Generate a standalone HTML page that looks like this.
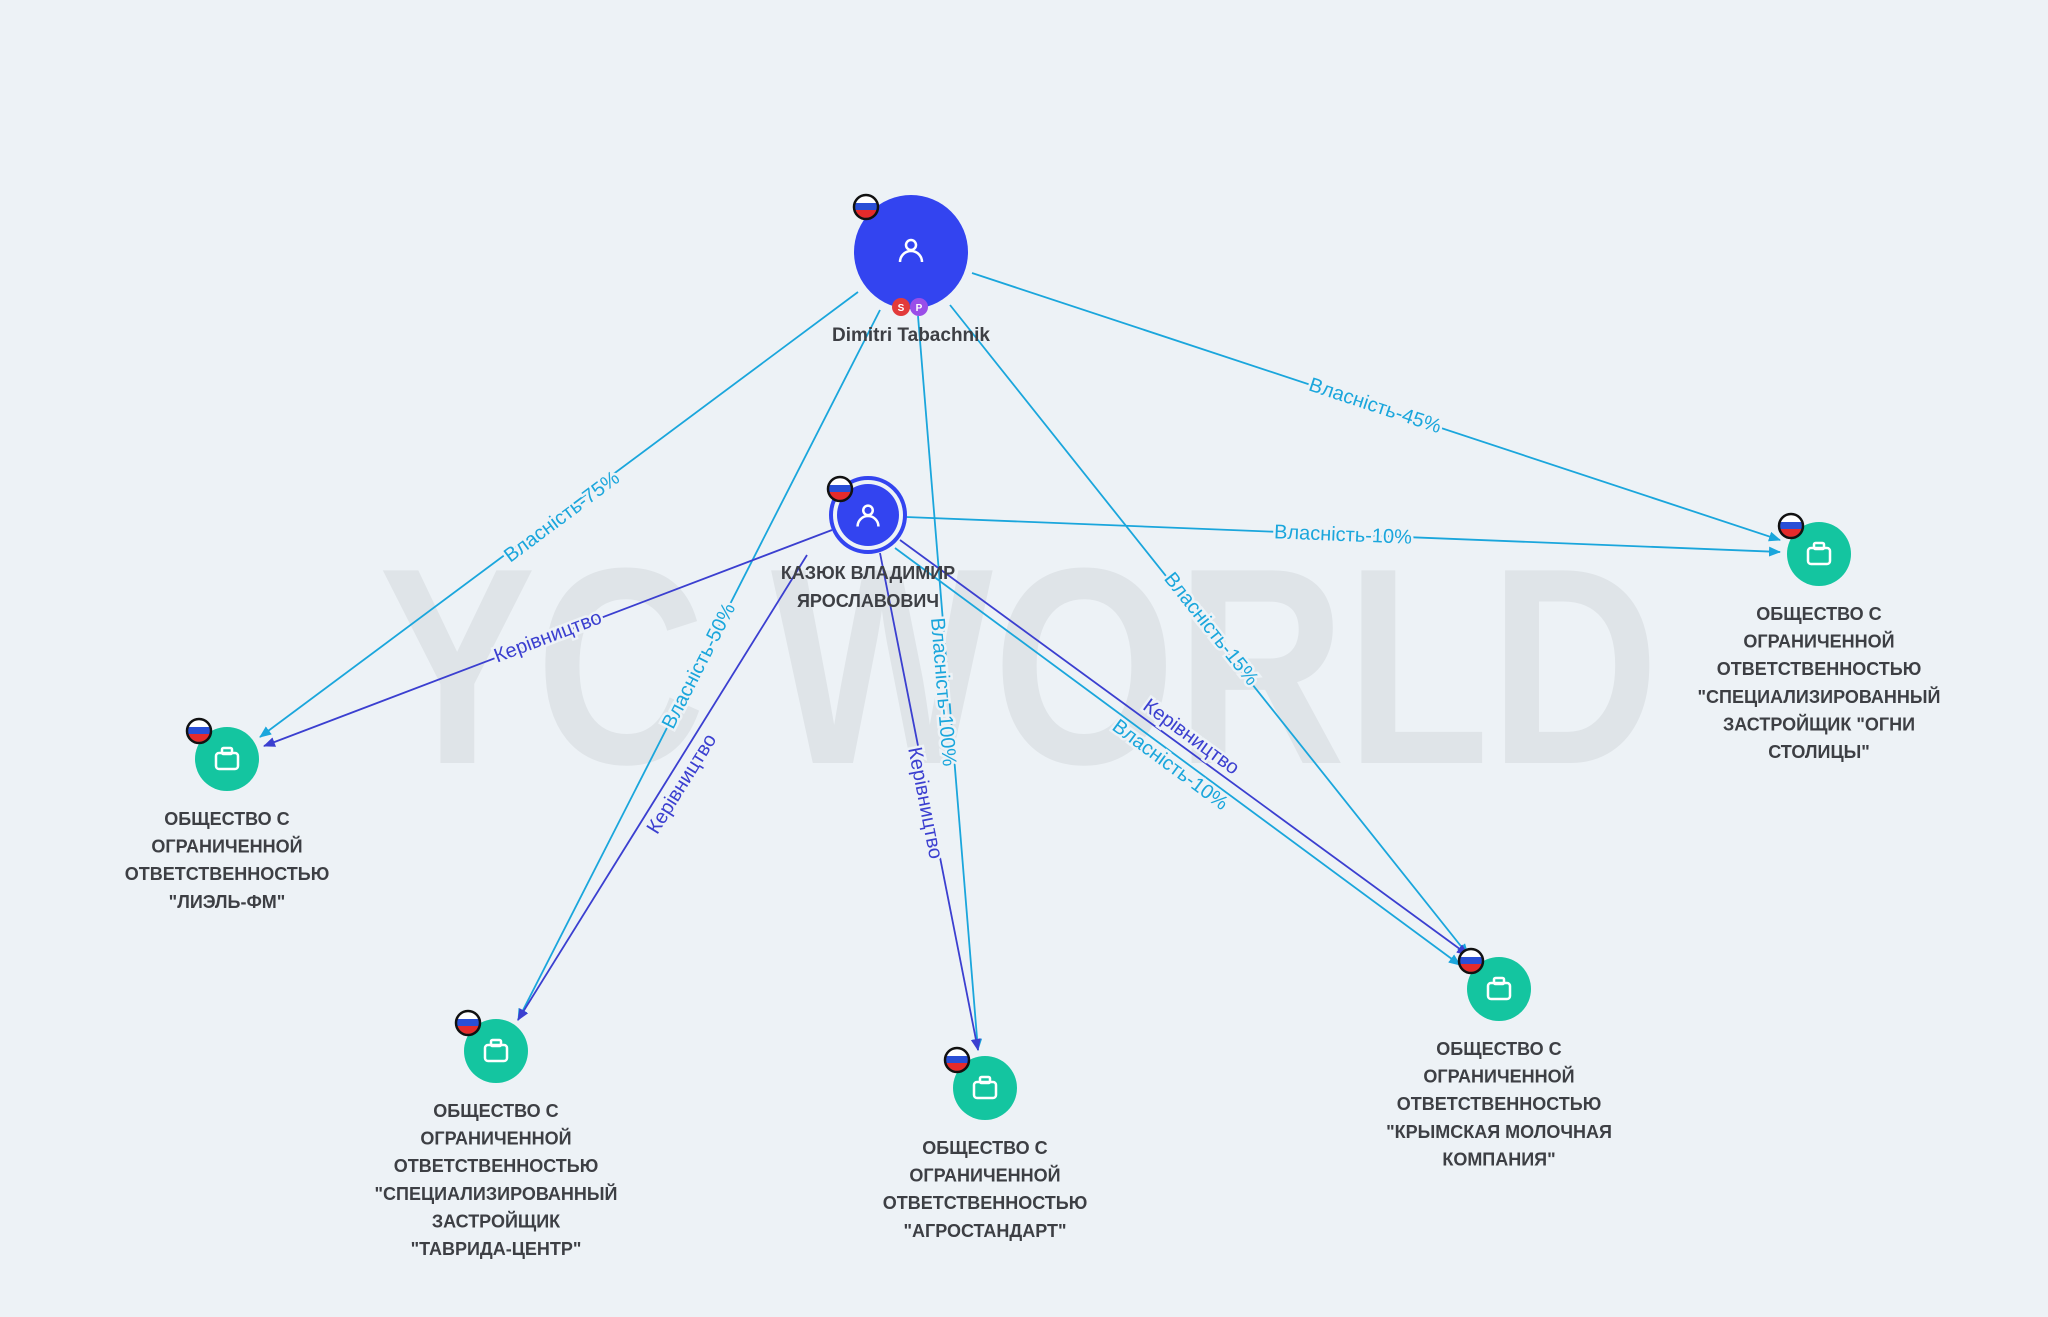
<!DOCTYPE html>
<html><head><meta charset="utf-8"><style>
html,body{margin:0;padding:0;background:#edf2f6;}
svg{display:block;}
.lbl{font-family:"Liberation Sans",sans-serif;font-size:18px;font-weight:bold;fill:#3d3f44;text-anchor:middle;}
.el{font-family:"Liberation Sans",sans-serif;font-size:20px;paint-order:stroke;stroke:#edf2f6;stroke-width:5px;text-anchor:middle;dominant-baseline:central;}
</style></head><body>
<svg id="s" width="2048" height="1317" viewBox="0 0 2048 1317" xmlns="http://www.w3.org/2000/svg">
<defs>
<marker id="ac" markerWidth="12" markerHeight="10" refX="11" refY="5" orient="auto" markerUnits="userSpaceOnUse"><path d="M0,0 L12,5 L0,10 z" fill="#1aa6dc"/></marker>
<marker id="ad" markerWidth="12" markerHeight="10" refX="11" refY="5" orient="auto" markerUnits="userSpaceOnUse"><path d="M0,0 L12,5 L0,10 z" fill="#3b3fd0"/></marker>
<clipPath id="fc"><circle r="11"/></clipPath>
</defs>
<text x="0" y="0" transform="translate(1019,763) scale(0.84,1)" font-family="Liberation Sans,sans-serif" font-size="280" font-weight="bold" fill="#dfe4e8" text-anchor="middle">YC WORLD</text>
<g id="edges"></g>
<g id="nodes"></g>
</svg>
<script>
const NS="http://www.w3.org/2000/svg";
const E=document.getElementById('edges'),N=document.getElementById('nodes');
function el(t,a,p,txt){const e=document.createElementNS(NS,t);for(const k in a)e.setAttribute(k,a[k]);if(txt!=null)e.textContent=txt;(p||E).appendChild(e);return e;}
const C="#1aa6dc",D="#3b3fd0";
const edges=[
[858,292,260,737,C,"Власність-75%",562,517],
[880,310,518,1020,C,"Власність-50%",699,666],
[918,316,978,1050,C,"Власність-100%",943,692],
[950,305,1468,955,C,"Власність-15%",1211,629],
[972,273,1780,540,C,"Власність-45%",1375,406],
[906,517,1780,552,C,"Власність-10%",1343,535],
[832,530,264,746,D,"Керівництво",548,637],
[807,555,518,1020,D,"Керівництво",682,784],
[880,553,978,1050,D,"Керівництво",925,803],
[900,540,1468,955,D,"Керівництво",1191,737],
[895,548,1460,965,C,"Власність-10%",1170,765]];
for(const [x1,y1,x2,y2,c,t] of edges) el('line',{x1,y1,x2,y2,stroke:c,'stroke-width':1.8,'marker-end':c==C?'url(#ac)':'url(#ad)'});
for(const [x1,y1,x2,y2,c,t,lx,ly] of edges){let a=Math.atan2(y2-y1,x2-x1)*180/Math.PI;if(a>95)a-=180;if(a<-95)a+=180;
el('text',{class:'el',x:lx,y:ly,fill:c,transform:`rotate(${a} ${lx} ${ly})`},E,t);}
function flag(x,y){const g=el('g',{transform:`translate(${x},${y})`},N);const h=el('g',{'clip-path':'url(#fc)'},g);
el('rect',{x:-11,y:-11,width:22,height:8,fill:'#fff'},h);el('rect',{x:-11,y:-4,width:22,height:7,fill:'#2a4fd6'},h);el('rect',{x:-11,y:3,width:22,height:8,fill:'#e52b2b'},h);
el('circle',{r:12,fill:'none',stroke:'#111','stroke-width':2.5},g);}
function person(x,y,s){el('circle',{cx:x,cy:y-7*s,r:5*s,fill:'none',stroke:'#fff','stroke-width':2.5},N);
el('path',{d:`M${x-11*s},${y+10*s} A${11*s},${11*s} 0 0 1 ${x+11*s},${y+10*s}`,fill:'none',stroke:'#fff','stroke-width':2.5},N);}
function company(x,y,lines){el('circle',{cx:x,cy:y,r:32,fill:'#14c5a0'},N);
el('rect',{x:x-11,y:y-6,width:22,height:16,rx:3,fill:'none',stroke:'#fff','stroke-width':2.5},N);
el('rect',{x:x-5,y:y-11,width:10,height:6,rx:1.5,fill:'none',stroke:'#fff','stroke-width':2.5},N);
flag(x-28,y-28);
lines.forEach((l,i)=>el('text',{class:'lbl',x:x,y:y+66+i*27.6},N,l));}
el('circle',{cx:911,cy:252,r:57,fill:'#3344f0'},N);person(911,252,1);flag(866,207);
el('circle',{cx:901,cy:307,r:9,fill:'#e23b3b'},N);el('text',{x:901,y:311,'font-size':10,'font-family':'Liberation Sans,sans-serif',fill:'#fff','text-anchor':'middle','font-weight':'bold'},N,'S');
el('circle',{cx:919,cy:307,r:9,fill:'#9a4ee8'},N);el('text',{x:919,y:311,'font-size':10,'font-family':'Liberation Sans,sans-serif',fill:'#fff','text-anchor':'middle','font-weight':'bold'},N,'P');
el('text',{class:'lbl',x:911,y:341,style:'font-size:19px'},N,'Dimitri Tabachnik');
el('circle',{cx:868,cy:515,r:37,fill:'#edf2f6',stroke:'#3344f0','stroke-width':4},N);
el('circle',{cx:868,cy:515,r:31,fill:'#3344f0'},N);person(868,517,0.95);flag(840,489);
el('text',{class:'lbl',x:868,y:579},N,'КАЗЮК ВЛАДИМИР');el('text',{class:'lbl',x:868,y:607},N,'ЯРОСЛАВОВИЧ');
company(227,759,['ОБЩЕСТВО С','ОГРАНИЧЕННОЙ','ОТВЕТСТВЕННОСТЬЮ','"ЛИЭЛЬ-ФМ"']);
company(496,1051,['ОБЩЕСТВО С','ОГРАНИЧЕННОЙ','ОТВЕТСТВЕННОСТЬЮ','"СПЕЦИАЛИЗИРОВАННЫЙ','ЗАСТРОЙЩИК','"ТАВРИДА-ЦЕНТР"']);
company(985,1088,['ОБЩЕСТВО С','ОГРАНИЧЕННОЙ','ОТВЕТСТВЕННОСТЬЮ','"АГРОСТАНДАРТ"']);
company(1499,989,['ОБЩЕСТВО С','ОГРАНИЧЕННОЙ','ОТВЕТСТВЕННОСТЬЮ','"КРЫМСКАЯ МОЛОЧНАЯ','КОМПАНИЯ"']);
company(1819,554,['ОБЩЕСТВО С','ОГРАНИЧЕННОЙ','ОТВЕТСТВЕННОСТЬЮ','"СПЕЦИАЛИЗИРОВАННЫЙ','ЗАСТРОЙЩИК "ОГНИ','СТОЛИЦЫ"']);
</script>
</body></html>
